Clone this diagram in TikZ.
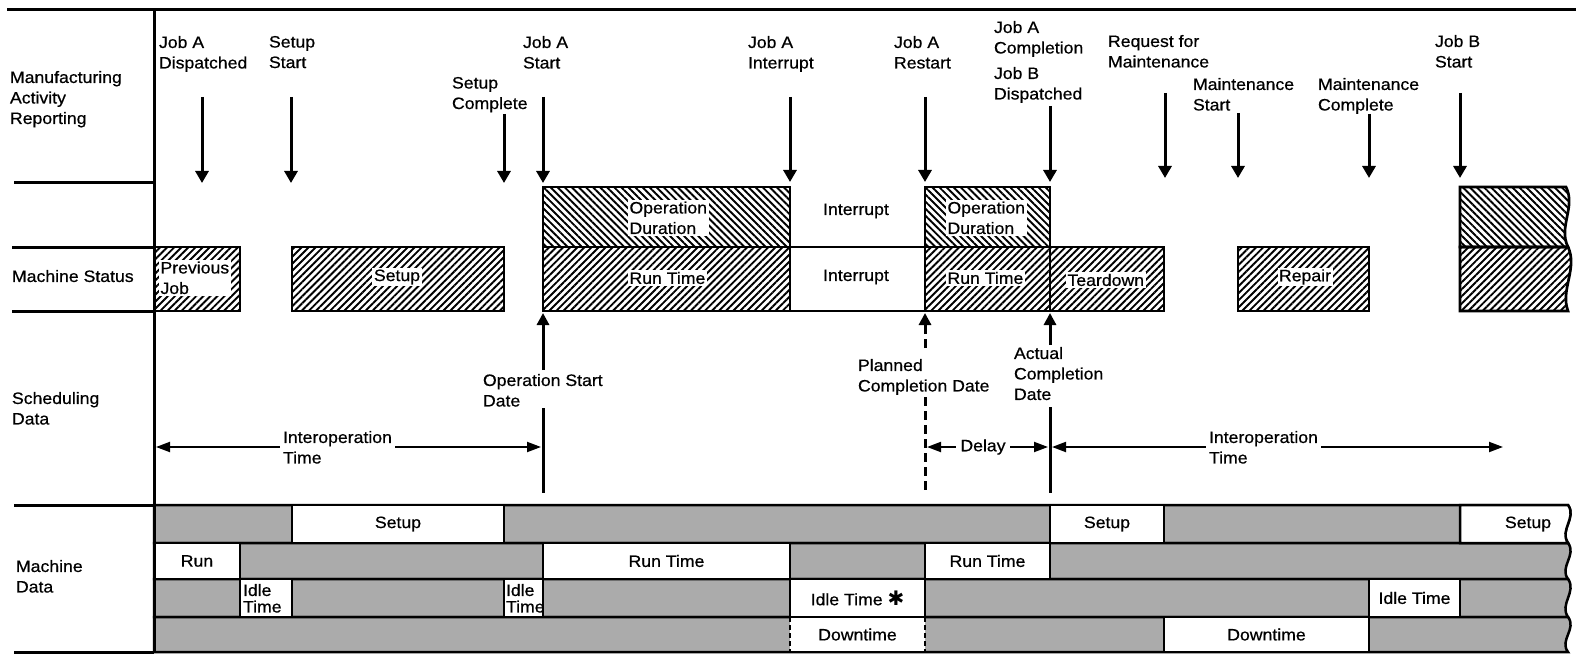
\documentclass[tikz,border=0pt]{standalone}
\usepackage{fontspec}
\setmainfont{Liberation Sans}[FakeStretch=1.07,FakeBold=0.6]
\newfontfamily\dingfont{DejaVu Sans}
\usetikzlibrary{arrows.meta,patterns.meta}
\begin{document}
\begin{tikzpicture}[x=1pt,y=-1pt,
  every node/.style={font=\fontsize{16.5}{20.5}\selectfont, inner sep=0pt, outer sep=0pt},
  txt/.style={align=left, anchor=north west},
  knock/.style={fill=white, inner sep=1.5pt},
  frameline/.style={line width=3pt},
  downarr/.style={line width=3pt, -{Triangle[width=13pt,length=12pt]}},
  uparr/.style={line width=3pt, -{Triangle[width=12pt,length=12pt]}},
  dimline/.style={line width=2pt, {Triangle[width=10pt,length=14pt]}-{Triangle[width=10pt,length=14pt]}},
  cellbox/.style={anchor=north west},
  hne/.style={cellbox, draw, line width=2.7pt, pattern={Lines[angle=45,distance=5pt,line width=1.9pt]}},
  hnw/.style={cellbox, draw, line width=2.7pt, pattern={Lines[angle=-45,distance=5pt,line width=1.9pt]}},
  greyrow/.style={fill=black!33, draw, line width=2.5pt},
  wcell/.style={cellbox, fill=white, draw, line width=2.5pt},
]
\useasboundingbox (0,0) rectangle (1576,655);

% ---------- section labels ----------
\node[txt] (lMAR) at (10,71) {Manufacturing\\Activity\\Reporting};
\node[txt] (lMS)  at (12,270) {Machine Status};
\node[txt] (lSD)  at (12,392) {Scheduling\\Data};
\node[txt] (lMD)  at (16,560) {Machine\\Data};

% ---------- frame ----------
\draw[frameline] (7,10) -- (1576,10);
\draw[frameline] (14,183) -- (154,183);
\draw[frameline] (12,247) -- (154,247);
\draw[frameline] (12,311) -- (154,311);
\draw[frameline] (14,505) -- (154,505);
\draw[frameline] (14,652) -- (154,652);

% ---------- machine status ----------
\node[hne, minimum width=86pt,  minimum height=64pt] (prev)   at (154,247) {};
\node[hne, minimum width=212pt, minimum height=64pt] (setup)  at (292,247) {};
\node[hnw, minimum width=247pt, minimum height=60pt] (op1)    at (543,187) {};
\node[hne, minimum width=247pt, minimum height=64pt] (run1)   at (543,247) {};
\node[cellbox, draw, line width=2.5pt, minimum width=135pt, minimum height=64pt] (intr) at (790,247) {};
\node[hnw, minimum width=125pt, minimum height=60pt] (op2)    at (925,187) {};
\node[hne, minimum width=125pt, minimum height=64pt] (run2)   at (925,247) {};
\node[hne, minimum width=114pt, minimum height=64pt] (tear)   at (1050,247) {};
\node[hne, minimum width=131pt, minimum height=64pt] (repair) at (1238,247) {};
% Job B bars, broken at the right edge
\draw[line width=2.7pt, pattern={Lines[angle=-45,distance=5pt,line width=1.9pt]}]
  (1460,187) -- (1566,187) .. controls (1576,207) and (1558,227) .. (1568,247) -- (1460,247) -- cycle;
\draw[line width=2.7pt, pattern={Lines[angle=45,distance=5pt,line width=1.9pt]}]
  (1460,247) -- (1568,247) .. controls (1578,268) and (1560,290) .. (1568,311) -- (1460,311) -- cycle;

\node[txt, knock] (xPrev) at (159,260) {Previous\\Job};
\node[knock] (xSetup) at (397,277) {Setup};
\node[txt, knock] (xOp1) at (628,200) {Operation\\Duration};
\node[knock, anchor=west] (xRun1) at (628,278) {Run Time};
\node (xInt1) at (856,211) {Interrupt};
\node (xInt2) at (856,277) {Interrupt};
\node[txt, knock] (xOp2) at (946,200) {Operation\\Duration};
\node[knock, anchor=west] (xRun2) at (946,278) {Run Time};
\node[knock, anchor=west] (xTear) at (1066,280) {Teardown};
\node[knock] (xRep) at (1305,277) {Repair};

% ---------- activity reporting events ----------
\node[txt] (tJAD) at (159,36) {Job A\\Dispatched};
\node[txt] (tSS)  at (269,36) {Setup\\Start};
\node[txt] (tSC)  at (452,77) {Setup\\Complete};
\node[txt] (tJAS) at (523,36) {Job A\\Start};
\node[txt] (tJAI) at (748,36) {Job A\\Interrupt};
\node[txt] (tJAR) at (894,36) {Job A\\Restart};
\node[txt] (tJAC) at (994,21) {Job A\\Completion};
\node[txt] (tJBD) at (994,67) {Job B\\Dispatched};
\node[txt] (tRFM) at (1108,35) {Request for\\Maintenance};
\node[txt] (tMS)  at (1193,78) {Maintenance\\Start};
\node[txt] (tMC)  at (1318,78) {Maintenance\\Complete};
\node[txt] (tJBS) at (1435,35) {Job B\\Start};

\coordinate (aJAD) at (202,97);  \coordinate (bJAD) at (202,183);
\coordinate (aSS)  at (291,97);  \coordinate (bSS)  at (291,183);
\coordinate (aSC)  at (504,114); \coordinate (bSC)  at (504,183);
\coordinate (aJAS) at (543,97);
\coordinate (aJAI) at (790,97);
\coordinate (aJAR) at (925,97);
\coordinate (aJAC) at (1050,106);
\coordinate (aRFM) at (1165,93);  \coordinate (bRFM) at (1165,178);
\coordinate (aMS)  at (1238,113); \coordinate (bMS)  at (1238,178);
\coordinate (aMC)  at (1369,114); \coordinate (bMC)  at (1369,178);
\coordinate (aJBS) at (1460,93);  \coordinate (bJBS) at (1460,178);

\draw[downarr] (aJAD) -- (bJAD);
\draw[downarr] (aSS) -- (bSS);
\draw[downarr] (aSC) -- (bSC);
\draw[downarr, shorten >=4pt] (aJAS) -- (op1.north west);
\draw[downarr, shorten >=5pt] (aJAI) -- (op1.north east);
\draw[downarr, shorten >=5pt] (aJAR) -- (op2.north west);
\draw[downarr, shorten >=5pt] (aJAC) -- (op2.north east);
\draw[downarr] (aRFM) -- (bRFM);
\draw[downarr] (aMS) -- (bMS);
\draw[downarr] (aMC) -- (bMC);
\draw[downarr] (aJBS) -- (bJBS);

% ---------- scheduling data ----------
\node[txt] (tOSD) at (483,374) {Operation Start\\Date};
\node[txt] (tPCD) at (858,359) {Planned\\Completion Date};
\node[txt, align=left] (tACD) at (1014,347) {Actual\\Completion\\Date};

\coordinate (sOS) at (543,370); \coordinate (lOS1) at (543,408); \coordinate (lOS2) at (543,493);
\coordinate (sPC) at (925,348); \coordinate (lPC1) at (925,397); \coordinate (lPC2) at (925,493);
\coordinate (sAC) at (1050,345); \coordinate (lAC1) at (1050,407); \coordinate (lAC2) at (1050,493);

\draw[uparr, shorten >=2pt] (sOS) -- (run1.south west);
\draw[uparr, shorten >=2pt, dash pattern=on 9pt off 5pt] (sPC) -- (run2.south west);
\draw[uparr, shorten >=2pt] (sAC) -- (run2.south east);
\draw[frameline] (lOS1) -- (lOS2);
\draw[frameline, dash pattern=on 9pt off 5pt] (lPC1) -- (lPC2);
\draw[frameline] (lAC1) -- (lAC2);

\coordinate (iL1) at (156,447); \coordinate (iR1) at (541,447);
\coordinate (dL)  at (927,447); \coordinate (dR)  at (1048,447);
\coordinate (iL2) at (1052,447); \coordinate (iR2) at (1503,447);
\draw[dimline] (iL1) -- (iR1);
\draw[dimline] (dL) -- (dR);
\draw[dimline] (iL2) -- (iR2);
\node[txt, fill=white, inner sep=3pt] (tIT1) at (280,428) {Interoperation\\Time};
\node[fill=white, inner sep=4pt] (tDelay) at (983,447) {Delay};
\node[txt, fill=white, inner sep=3pt] (tIT2) at (1206,428) {Interoperation\\Time};

% ---------- machine data ----------
\filldraw[greyrow] (154,505) -- (1568,505) .. controls (1577,518) and (1559,530) .. (1568,543) -- (154,543) -- cycle;
\filldraw[greyrow] (154,543) -- (1568,543) .. controls (1577,555) and (1559,567) .. (1568,579) -- (154,579) -- cycle;
\filldraw[greyrow] (154,579) -- (1568,579) .. controls (1577,592) and (1559,604) .. (1568,617) -- (154,617) -- cycle;
\filldraw[greyrow] (154,617) -- (1568,617) .. controls (1577,629) and (1559,640) .. (1568,652) -- (154,652) -- cycle;

% row 1
\node[wcell, minimum width=212pt, minimum height=38pt] (mSet1) at (292,505) {Setup};
\node[wcell, minimum width=114pt, minimum height=38pt] (mSet2) at (1050,505) {Setup};
\filldraw[fill=white, line width=2.5pt] (1460,505) -- (1568,505) .. controls (1577,518) and (1559,530) .. (1568,543) -- (1460,543) -- cycle;
\node (mSet3) at (1528,524) {Setup};
% row 2
\node[wcell, minimum width=86pt,  minimum height=36pt] (mRun0) at (154,543) {Run};
\node[wcell, minimum width=247pt, minimum height=36pt] (mRun1) at (543,543) {Run Time};
\node[wcell, minimum width=125pt, minimum height=36pt] (mRun2) at (925,543) {Run Time};
% row 3
\node[wcell, minimum width=52pt,  minimum height=38pt] (mIdle1) at (240,579) {};
\node[wcell, minimum width=39pt,  minimum height=38pt] (mIdle2) at (504,579) {};
\node[wcell, minimum width=135pt, minimum height=38pt] (mIdle3) at (790,579) {Idle Time {\dingfont\fontsize{20}{20}\selectfont ✱}};
\node[wcell, minimum width=91pt,  minimum height=38pt] (mIdle4) at (1369,579) {Idle Time};
\node[txt, font=\fontsize{16.5}{16.5}\selectfont] (xIdle1) at (243,584) {Idle\\Time};
\node[txt, font=\fontsize{16.5}{16.5}\selectfont] (xIdle2) at (506,584) {Idle\\Time};
% row 4
\node[cellbox, fill=white, minimum width=135pt, minimum height=35pt] (mDown1) at (790,617) {Downtime};
\draw[line width=2.5pt] (mDown1.north west) -- (mDown1.north east);
\draw[line width=2.5pt] (mDown1.south west) -- (mDown1.south east);
\draw[line width=2.5pt, dash pattern=on 5pt off 3pt] (mDown1.north west) -- (mDown1.south west);
\draw[line width=2.5pt, dash pattern=on 5pt off 3pt] (mDown1.north east) -- (mDown1.south east);
\node[wcell, minimum width=205pt, minimum height=35pt] (mDown2) at (1164,617) {Downtime};

% divider between labels and time line
\draw[frameline] (154,10) -- (154,652);
\end{tikzpicture}
\end{document}
